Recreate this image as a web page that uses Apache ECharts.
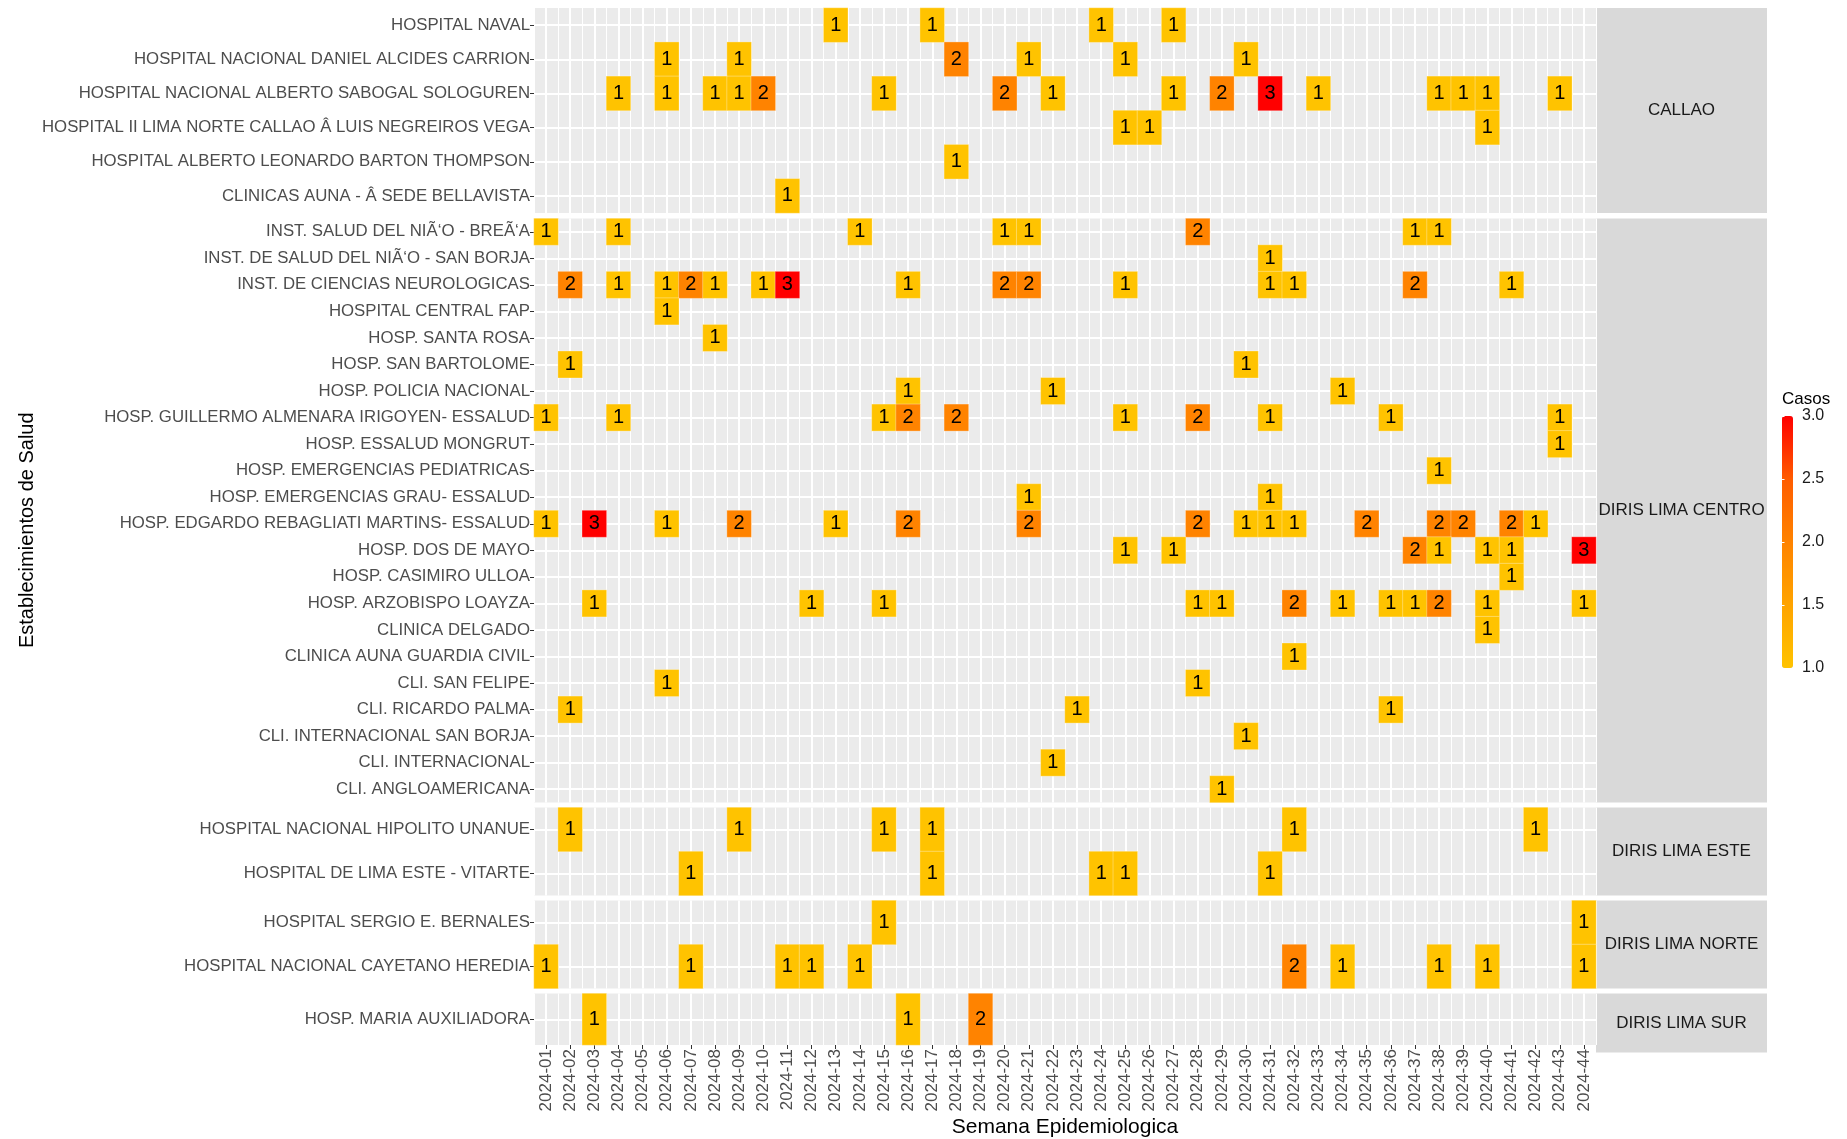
<!DOCTYPE html>
<html><head><meta charset="utf-8">
<script src="https://cdn.jsdelivr.net/npm/echarts@6/dist/echarts.min.js"></script>
<style>html,body{margin:0;padding:0;background:#fff}#c{width:1847px;height:1139px}</style>
</head><body><div id="c"></div>
<script>
// ---------------- DATA ----------------
const weeks = ['2024-01','2024-02','2024-03','2024-04','2024-05','2024-06','2024-07','2024-08','2024-09','2024-10',
  '2024-11','2024-12','2024-13','2024-14','2024-15','2024-16','2024-17','2024-18','2024-19','2024-20',
  '2024-21','2024-22','2024-23','2024-24','2024-25','2024-26','2024-27','2024-28','2024-29','2024-30',
  '2024-31','2024-32','2024-33','2024-34','2024-35','2024-36','2024-37','2024-38','2024-39','2024-40',
  '2024-41','2024-42','2024-43','2024-44'];

const facetNames = ['CALLAO','DIRIS LIMA CENTRO','DIRIS LIMA ESTE','DIRIS LIMA NORTE','DIRIS LIMA SUR'];

// rows listed top to bottom; cases as [week number, count]
const callaoRows = [
  'HOSPITAL NAVAL',
  'HOSPITAL NACIONAL DANIEL ALCIDES CARRION',
  'HOSPITAL NACIONAL ALBERTO SABOGAL SOLOGUREN',
  'HOSPITAL II LIMA NORTE CALLAO Â LUIS NEGREIROS VEGA',
  'HOSPITAL ALBERTO LEONARDO BARTON THOMPSON',
  'CLINICAS AUNA - Â SEDE BELLAVISTA'
];
const callaoCases = [
  [[13,1],[17,1],[24,1],[27,1]],
  [[6,1],[9,1],[18,2],[21,1],[25,1],[30,1]],
  [[4,1],[6,1],[8,1],[9,1],[10,2],[15,1],[20,2],[22,1],[27,1],[29,2],[31,3],[33,1],[38,1],[39,1],[40,1],[43,1]],
  [[25,1],[26,1],[40,1]],
  [[18,1]],
  [[11,1]]
];

const centroRows = [
  'INST. SALUD DEL NIÃ‘O - BREÃ‘A',
  'INST. DE SALUD DEL NIÃ‘O - SAN BORJA',
  'INST. DE CIENCIAS NEUROLOGICAS',
  'HOSPITAL CENTRAL FAP',
  'HOSP. SANTA ROSA',
  'HOSP. SAN BARTOLOME',
  'HOSP. POLICIA NACIONAL',
  'HOSP. GUILLERMO ALMENARA IRIGOYEN- ESSALUD',
  'HOSP. ESSALUD MONGRUT',
  'HOSP. EMERGENCIAS PEDIATRICAS',
  'HOSP. EMERGENCIAS GRAU- ESSALUD',
  'HOSP. EDGARDO REBAGLIATI MARTINS- ESSALUD',
  'HOSP. DOS DE MAYO',
  'HOSP. CASIMIRO ULLOA',
  'HOSP. ARZOBISPO LOAYZA',
  'CLINICA DELGADO',
  'CLINICA AUNA GUARDIA CIVIL',
  'CLI. SAN FELIPE',
  'CLI. RICARDO PALMA',
  'CLI. INTERNACIONAL SAN BORJA',
  'CLI. INTERNACIONAL',
  'CLI. ANGLOAMERICANA'
];
const centroCases = [
  [[1,1],[4,1],[14,1],[20,1],[21,1],[28,2],[37,1],[38,1]],
  [[31,1]],
  [[2,2],[4,1],[6,1],[7,2],[8,1],[10,1],[11,3],[16,1],[20,2],[21,2],[25,1],[31,1],[32,1],[37,2],[41,1]],
  [[6,1]],
  [[8,1]],
  [[2,1],[30,1]],
  [[16,1],[22,1],[34,1]],
  [[1,1],[4,1],[15,1],[16,2],[18,2],[25,1],[28,2],[31,1],[36,1],[43,1]],
  [[43,1]],
  [[38,1]],
  [[21,1],[31,1]],
  [[1,1],[3,3],[6,1],[9,2],[13,1],[16,2],[21,2],[28,2],[30,1],[31,1],[32,1],[35,2],[38,2],[39,2],[41,2],[42,1]],
  [[25,1],[27,1],[37,2],[38,1],[40,1],[41,1],[44,3]],
  [[41,1]],
  [[3,1],[12,1],[15,1],[28,1],[29,1],[32,2],[34,1],[36,1],[37,1],[38,2],[40,1],[44,1]],
  [[40,1]],
  [[32,1]],
  [[6,1],[28,1]],
  [[2,1],[23,1],[36,1]],
  [[30,1]],
  [[22,1]],
  [[29,1]]
];

const esteRows = ['HOSPITAL NACIONAL HIPOLITO UNANUE','HOSPITAL DE LIMA ESTE - VITARTE'];
const esteCases = [
  [[2,1],[9,1],[15,1],[17,1],[32,1],[42,1]],
  [[7,1],[17,1],[24,1],[25,1],[31,1]]
];

const norteRows = ['HOSPITAL SERGIO E. BERNALES','HOSPITAL NACIONAL CAYETANO HEREDIA'];
const norteCases = [
  [[15,1],[44,1]],
  [[1,1],[7,1],[11,1],[12,1],[14,1],[32,2],[34,1],[38,1],[40,1],[44,1]]
];

const surRows = ['HOSP. MARIA AUXILIADORA'];
const surCases = [
  [[3,1],[16,1],[19,2]]
];

const legendMin = 1, legendMax = 3, legendStep = 0.5;

// ---------------- LAYOUT / STYLE ----------------
const FONT = 'Liberation Sans, Arial, sans-serif';
const PANEL_LEFT = 534, PANEL_WIDTH = 1062, STRIP_WIDTH = 171;
const panelBoxes = [
  {top: 8, height: 205},
  {top: 218.5, height: 584},
  {top: 807.5, height: 88},
  {top: 900.5, height: 88},
  {top: 993.5, height: 59}
];
const fillColors = ['#FFC300', '#FFA400', '#FF8300', '#FF5C00', '#FF0000'];

const facets = [
  {rows: callaoRows, cases: callaoCases},
  {rows: centroRows, cases: centroCases},
  {rows: esteRows, cases: esteCases},
  {rows: norteRows, cases: norteCases},
  {rows: surRows, cases: surCases}
];

const grids = [], xAxes = [], yAxes = [], series = [], graphics = [];
const nF = facets.length;

facets.forEach((f, i) => {
  const box = panelBoxes[i];
  const last = i === nF - 1;
  grids.push({left: PANEL_LEFT, top: box.top, width: PANEL_WIDTH, height: box.height, backgroundColor: '#EBEBEB', show: true, borderWidth: 0});
  // category x axis (data)
  xAxes.push({
    type: 'category', gridIndex: i, data: weeks, position: 'bottom',
    axisLine: {show: false},
    axisTick: {show: last, alignWithLabel: true, length: 4, lineStyle: {color: '#333333', width: 1}},
    axisLabel: {show: last, interval: 0, rotate: 90, fontSize: 17, color: '#4D4D4D', fontFamily: FONT, margin: 4},
    splitLine: {show: false},
    name: last ? 'Semana Epidemiologica' : '',
    nameLocation: 'middle', nameGap: 72,
    nameTextStyle: {fontSize: 21, color: '#000', fontFamily: FONT}
  });
  // helper value x axis for gridlines
  xAxes.push({
    type: 'value', gridIndex: i, position: 'top', min: 0, max: weeks.length, interval: 1,
    axisLine: {show: false}, axisTick: {show: false}, axisLabel: {show: false},
    splitLine: {show: true, lineStyle: {color: '#FFFFFF', width: 1}},
    minorTick: {show: false, splitNumber: 2},
    minorSplitLine: {show: true, lineStyle: {color: '#FFFFFF', width: 2}}
  });
  yAxes.push({
    type: 'category', gridIndex: i, data: f.rows, inverse: true,
    axisLine: {show: false},
    axisTick: {show: true, alignWithLabel: true, length: 4, lineStyle: {color: '#333333', width: 1}},
    axisLabel: {interval: 0, fontSize: 16.8, color: '#4D4D4D', fontFamily: FONT, margin: 4},
    splitLine: {show: false}
  });
  yAxes.push({
    type: 'value', gridIndex: i, position: 'right', min: 0, max: f.rows.length, interval: 1,
    axisLine: {show: false}, axisTick: {show: false}, axisLabel: {show: false},
    splitLine: {show: false},
    minorTick: {show: false, splitNumber: 2},
    minorSplitLine: {show: true, lineStyle: {color: '#FFFFFF', width: 2}}
  });
  const data = [];
  f.cases.forEach((rowCases, r) => {
    rowCases.forEach(([w, v]) => data.push([w - 1, r, v]));
  });
  series.push({
    type: 'heatmap', xAxisIndex: 2 * i, yAxisIndex: 2 * i, data: data,
    itemStyle: {borderColor: 'rgba(255,255,255,0.3)', borderWidth: 1},
    label: {show: true, color: '#000', fontSize: 20, fontFamily: FONT, formatter: p => String(p.value[2])},
    emphasis: {disabled: true}
  });
  // facet strip
  graphics.push({
    type: 'rect', shape: {x: PANEL_LEFT + PANEL_WIDTH, y: box.top, width: STRIP_WIDTH, height: box.height},
    style: {fill: '#D9D9D9'}, silent: true
  });
  graphics.push({
    type: 'text', x: PANEL_LEFT + PANEL_WIDTH + STRIP_WIDTH / 2, y: box.top + box.height / 2,
    style: {text: facetNames[i], font: '17px ' + FONT, fill: '#1A1A1A', textAlign: 'center', textVerticalAlign: 'middle'},
    silent: true
  });
});

// legend axis grid (labels + ticks for the colour bar)
const LEG_LEFT = 1782, LEG_TOP = 416, LEG_W = 11, LEG_H = 252;
grids.push({left: LEG_LEFT, top: LEG_TOP, width: LEG_W, height: LEG_H});
xAxes.push({type: 'value', gridIndex: nF, show: false, min: 0, max: 1});
yAxes.push({
  type: 'value', gridIndex: nF, min: legendMin, max: legendMax, interval: legendStep, position: 'left', z: 20,
  axisLine: {show: false},
  axisTick: {show: true, inside: true, length: 2.5, lineStyle: {color: '#FFFFFF', width: 1}},
  axisLabel: {inside: true, margin: 20, fontSize: 16, color: '#1A1A1A', fontFamily: FONT, formatter: v => v.toFixed(1)},
  splitLine: {show: false},
  name: 'Casos', nameLocation: 'end', nameGap: 7,
  nameTextStyle: {fontSize: 17, color: '#000', fontFamily: FONT, align: 'left', verticalAlign: 'bottom'}
});

// y-axis title spanning all panels
grids.push({left: PANEL_LEFT, top: panelBoxes[0].top, width: PANEL_WIDTH,
  height: panelBoxes[nF - 1].top + panelBoxes[nF - 1].height - panelBoxes[0].top});
xAxes.push({type: 'value', gridIndex: nF + 1, show: false, min: 0, max: 1});
yAxes.push({
  type: 'value', gridIndex: nF + 1, min: 0, max: 1,
  axisLine: {show: false}, axisTick: {show: false}, axisLabel: {show: false}, splitLine: {show: false},
  name: 'Establecimientos de Salud', nameLocation: 'middle', nameGap: 497,
  nameTextStyle: {fontSize: 20, color: '#000', fontFamily: FONT}
});

const chart = echarts.init(document.getElementById('c'), null, {renderer: 'canvas'});
chart.setOption({
  animation: false,
  backgroundColor: '#FFFFFF',
  textStyle: {fontFamily: FONT},
  grid: grids,
  xAxis: xAxes,
  yAxis: yAxes,
  visualMap: {
    type: 'continuous', min: legendMin, max: legendMax,
    seriesIndex: series.map((s, k) => k),
    inRange: {color: fillColors},
    left: LEG_LEFT, top: LEG_TOP, itemWidth: LEG_W, itemHeight: LEG_H, padding: 0,
    calculable: false, hoverLink: false, orient: 'vertical'
  },
  graphic: graphics,
  series: series
});
</script></body></html>
